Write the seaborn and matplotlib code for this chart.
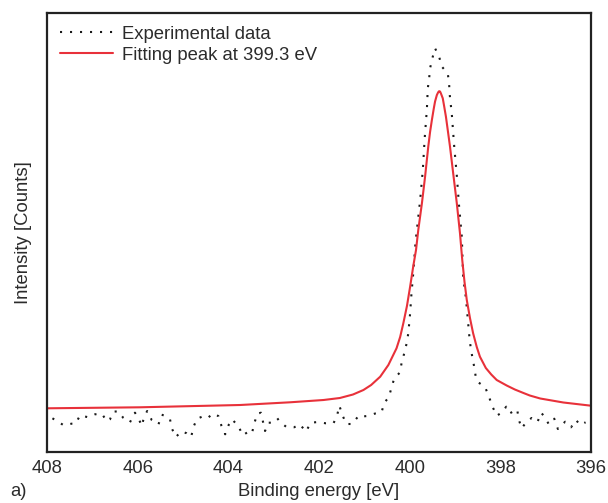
import matplotlib
matplotlib.use("Agg")
import matplotlib.pyplot as plt
import seaborn as sns
import pandas as pd

# Experimental data (binding energy [eV], intensity [arb. counts])
exp_energy = [407.88, 407.75, 407.63, 407.46, 407.37, 407.27, 407.09, 406.94, 406.79, 406.68,
              406.61, 406.54, 406.43, 406.32, 406.17, 406.06, 405.99, 405.91, 405.86, 405.79,
              405.69, 405.54, 405.47, 405.37, 405.29, 405.24, 405.16, 405.03, 404.92, 404.82,
              404.77, 404.69, 404.54, 404.44, 404.36, 404.22, 404.15, 404.07, 403.99, 403.92,
              403.78, 403.68, 403.58, 403.48, 403.43, 403.36, 403.28, 403.19, 403.12, 403.06,
              402.92, 402.86, 402.71, 402.55, 402.42, 402.29, 402.18, 402.02, 401.85, 401.68,
              401.60, 401.55, 401.49, 401.40, 401.27, 401.12, 401.05, 400.93, 400.76, 400.62,
              400.56, 400.46, 400.40, 400.34, 400.21, 400.18, 400.12, 400.07, 400.03, 399.99,
              399.96, 399.94, 399.92, 399.87, 399.82, 399.77, 399.71, 399.67, 399.62, 399.60,
              399.57, 399.55, 399.50, 399.44, 399.35, 399.29, 399.16, 399.13, 399.12, 399.07,
              399.02, 398.96, 398.91, 398.85, 398.82, 398.76, 398.72, 398.68, 398.65, 398.61,
              398.57, 398.54, 398.49, 398.34, 398.25, 398.18, 398.08, 397.97, 397.87, 397.79,
              397.63, 397.59, 397.53, 397.42, 397.31, 397.18, 397.10, 397.02, 396.93, 396.81,
              396.73, 396.57, 396.44, 396.33, 396.24, 396.12]
exp_counts = [33.7, 30.0, 26.7, 28.3, 28.3, 36.7, 34.7, 37.7, 38.3, 30.7,
              32.7, 40.3, 40.7, 34.3, 29.7, 39.3, 34.7, 26.0, 34.7, 41.0,
              32.0, 27.7, 37.3, 35.7, 33.3, 23.0, 15.0, 20.7, 18.7, 15.0,
              25.0, 33.3, 36.0, 34.3, 38.3, 36.0, 26.0, 17.7, 27.3, 32.7,
              26.0, 16.7, 19.7, 18.3, 28.3, 38.3, 39.3, 21.0, 29.3, 29.3,
              33.7, 30.0, 24.7, 24.7, 27.7, 20.3, 29.3, 30.0, 28.7, 28.7,
              36.7, 46.3, 37.7, 28.0, 28.0, 36.5, 35.5, 36.0, 38.5, 39.7,
              49.3, 54.7, 64.5, 73.7, 79.7, 88.7, 98.7, 108.0, 118.7, 138.7,
              158.7, 169.3, 179.3, 210.3, 231.0, 251.3, 282.0, 312.7, 343.0, 363.7,
              373.7, 383.7, 393.7, 403.7, 395.3, 385.3, 378.7, 368.7, 358.7, 337.7,
              307.0, 276.3, 246.0, 215.3, 174.3, 154.3, 133.7, 113.7, 103.0, 93.0,
              83.7, 74.3, 69.7, 65.3, 55.3, 46.0, 36.3, 39.3, 45.3, 38.7,
              42.7, 32.0, 23.7, 30.3, 34.0, 30.0, 39.3, 35.0, 27.7, 33.3,
              23.0, 30.3, 24.7, 32.0, 27.0, 29.7]

# Fitted peak at 399.3 eV
fit_energy = [408.00, 405.95, 403.74, 402.64, 401.90, 401.54, 401.25, 401.02, 400.85, 400.65,
              400.47, 400.29, 400.21, 400.14, 400.06, 399.99, 399.92, 399.86, 399.81, 399.73,
              399.66, 399.59, 399.55, 399.51, 399.47, 399.44, 399.40, 399.37, 399.35, 399.33,
              399.31, 399.27, 399.24, 399.20, 399.16, 399.11, 399.04, 398.96, 398.89, 398.84,
              398.79, 398.74, 398.67, 398.60, 398.52, 398.45, 398.32, 398.20, 398.08, 397.86,
              397.68, 397.49, 397.35, 397.12, 396.61, 396.00]
fit_counts = [43.7, 44.7, 47.0, 49.7, 52.0, 54.0, 57.5, 62.0, 67.0, 75.3,
              87.0, 103.7, 115.0, 128.7, 146.0, 165.3, 186.0, 202.0, 222.0, 248.7,
              275.3, 305.3, 320.0, 332.0, 343.0, 350.5, 357.0, 359.8, 360.8, 360.5,
              358.5, 353.7, 346.0, 335.3, 322.0, 305.3, 278.7, 248.7, 218.7, 192.0,
              170.0, 152.0, 134.0, 118.7, 105.0, 95.3, 84.0, 77.5, 72.0, 66.5,
              62.5, 59.0, 56.5, 53.5, 49.5, 46.3]

x_ticks = [408, 406, 404, 402, 400, 398, 396]
legend_labels = ["Experimental data", "Fitting peak at 399.3 eV"]

sns.set_style("white")
plt.rcParams["font.family"] = ["Liberation Sans", "DejaVu Sans"]
text_color = "#2b2b2b"
fs = 13.3

exp_df = pd.DataFrame({"energy": exp_energy, "counts": exp_counts})
fit_df = pd.DataFrame({"energy": fit_energy, "counts": fit_counts})

fig = plt.figure(figsize=(6.08, 5.03), dpi=100)
ax = fig.add_axes([47 / 608, 1 - 452 / 503, (591 - 47) / 608, (452 - 13) / 503])

sns.lineplot(data=exp_df, x="energy", y="counts", ax=ax, sort=False, estimator=None,
             color="#1a1a1a", linewidth=1.5, linestyle=(0, (1, 3.8)),
             label=legend_labels[0])
sns.lineplot(data=fit_df, x="energy", y="counts", ax=ax, sort=False, estimator=None,
             color="#e8313a", linewidth=1.5, label=legend_labels[1])

ax.set_xlim(408, 396)
ax.set_ylim(0, 439)
ax.set_xticks(x_ticks)
ax.set_xticklabels([str(t) for t in x_ticks])
ax.set_yticks([])
ax.tick_params(axis="x", direction="in", length=8, width=1.5, pad=6,
               labelsize=fs, colors="#222222", labelcolor=text_color)
for s in ax.spines.values():
    s.set_linewidth(1.6)
    s.set_color("#222222")

ax.set_xlabel("Binding energy [eV]", fontsize=fs, color=text_color, labelpad=4)
ax.set_ylabel("Intensity [Counts]", fontsize=fs, color=text_color, labelpad=11)
fig.text(10 / 608, 1 - 491 / 503, "a)", fontsize=fs, color=text_color,
         ha="left", va="center")

leg = ax.legend(loc="upper left", frameon=False, fontsize=fs, handlelength=2.85,
                handletextpad=0.5, labelspacing=0.2, borderaxespad=0.5,
                borderpad=0.2)
for t in leg.get_texts():
    t.set_color(text_color)

fig.savefig("out.png", dpi=100)
